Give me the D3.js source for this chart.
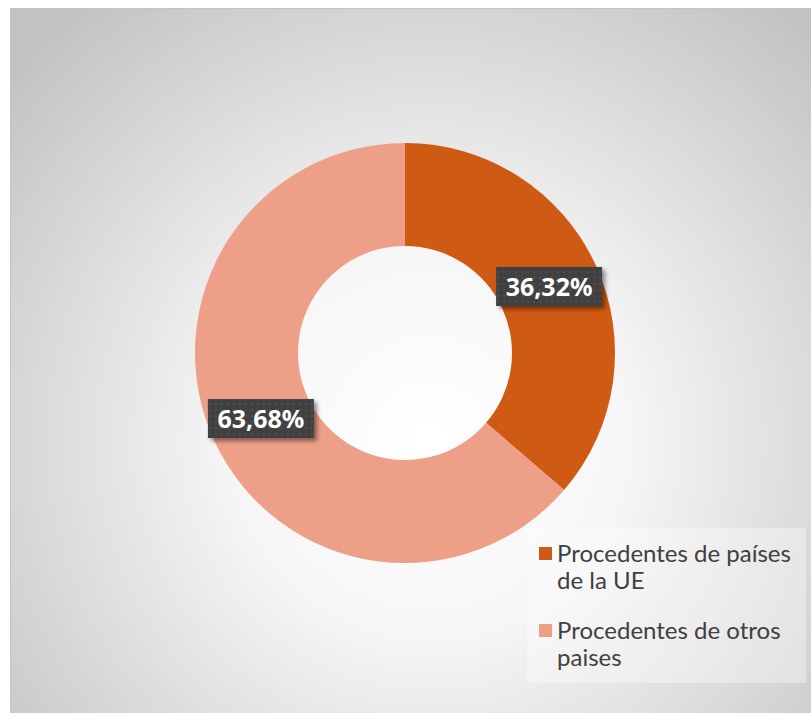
<!DOCTYPE html>
<html>
<head>
<meta charset="utf-8">
<script src="https://cdn.jsdelivr.net/npm/d3@7"></script>
<style>
  body { margin: 0; background: #fff; }
  svg { display: block; }
</style>
</head>
<body>
<svg id="chart"></svg>
<script>
const categories = ['Procedentes de países de la UE', 'Procedentes de otros paises'];
const legendLines = [['Procedentes de países', 'de la UE'], ['Procedentes de otros', 'paises']];
const values = [36.32, 63.68];
const colors = ['#CF5A13', '#EE9F88'];

const width = 811;
const height = 713;

const svg = d3.select('#chart').attr('width', width).attr('height', height);
const defs = svg.append('defs');

// background gradient, light in the middle, grey towards the corners
const bg = defs.append('radialGradient').attr('id', 'bg')
    .attr('gradientUnits', 'userSpaceOnUse')
    .attr('cx', 430).attr('cy', 440).attr('r', 560);
bg.append('stop').attr('offset', '0%').attr('stop-color', '#ffffff');
bg.append('stop').attr('offset', '35%').attr('stop-color', '#f6f6f6');
bg.append('stop').attr('offset', '100%').attr('stop-color', '#c2c2c2');

// dotted pattern for the data labels
const pat = defs.append('pattern').attr('id', 'dots')
    .attr('patternUnits', 'userSpaceOnUse').attr('width', 6).attr('height', 6);
pat.append('rect').attr('width', 6).attr('height', 6).attr('fill', '#404040');
pat.append('circle').attr('cx', 3).attr('cy', 3).attr('r', 1).attr('fill', '#555555');

const shadow = defs.append('filter').attr('id', 'shadow')
    .attr('x', '-20%').attr('y', '-20%').attr('width', '150%').attr('height', '160%');
shadow.append('feDropShadow').attr('dx', 3).attr('dy', 3).attr('stdDeviation', 2)
    .attr('flood-color', '#000').attr('flood-opacity', 0.45);

svg.append('rect')
    .attr('x', 10.5).attr('y', 8.5).attr('width', width).attr('height', height)
    .attr('fill', 'url(#bg)').attr('stroke', '#c4c4c4');

const cx = 405, cy = 353;
const outerR = 210, innerR = 107;

const pie = d3.pie().sort(null).value(d => d)(values);
const arc = d3.arc().innerRadius(innerR).outerRadius(outerR);

const g = svg.append('g').attr('transform', `translate(${cx},${cy})`);

g.selectAll('path.slice')
    .data(pie)
    .join('path')
    .attr('class', 'slice')
    .attr('d', arc)
    .attr('fill', (d, i) => colors[i]);

// data labels
const fmt = v => v.toFixed(2).replace('.', ',') + '%';
const labels = g.selectAll('g.label')
    .data(pie)
    .join('g')
    .attr('class', 'label')
    .attr('transform', d => `translate(${arc.centroid(d)})`);

labels.append('rect')
    .attr('x', -53).attr('y', -20).attr('width', 106).attr('height', 39)
    .attr('fill', 'url(#dots)')
    .attr('filter', 'url(#shadow)');

labels.append('text')
    .attr('text-anchor', 'middle')
    .attr('y', 9)
    .attr('fill', '#ffffff')
    .style('font-family', '"Noto Sans", sans-serif')
    .style('font-weight', 'bold')
    .style('font-size', '25px')
    .text(d => fmt(d.data));

// legend
const legend = svg.append('g');
legend.append('rect')
    .attr('x', 527).attr('y', 528).attr('width', 279).attr('height', 155)
    .attr('fill', '#ffffff').attr('fill-opacity', 0.35);

const items = legend.selectAll('g.item')
    .data(categories)
    .join('g')
    .attr('class', 'item')
    .attr('transform', (d, i) => `translate(539,${547 + i * 77})`);

items.append('rect')
    .attr('width', 13).attr('height', 13)
    .attr('fill', (d, i) => colors[i]);

items.append('text')
    .attr('fill', '#404040')
    .style('font-family', 'Lato, sans-serif')
    .style('font-size', '24px')
    .selectAll('tspan')
    .data((d, i) => legendLines[i])
    .join('tspan')
    .attr('x', 18)
    .attr('y', (d, j) => 15 + j * 27)
    .text(d => d);
</script>
</body>
</html>
